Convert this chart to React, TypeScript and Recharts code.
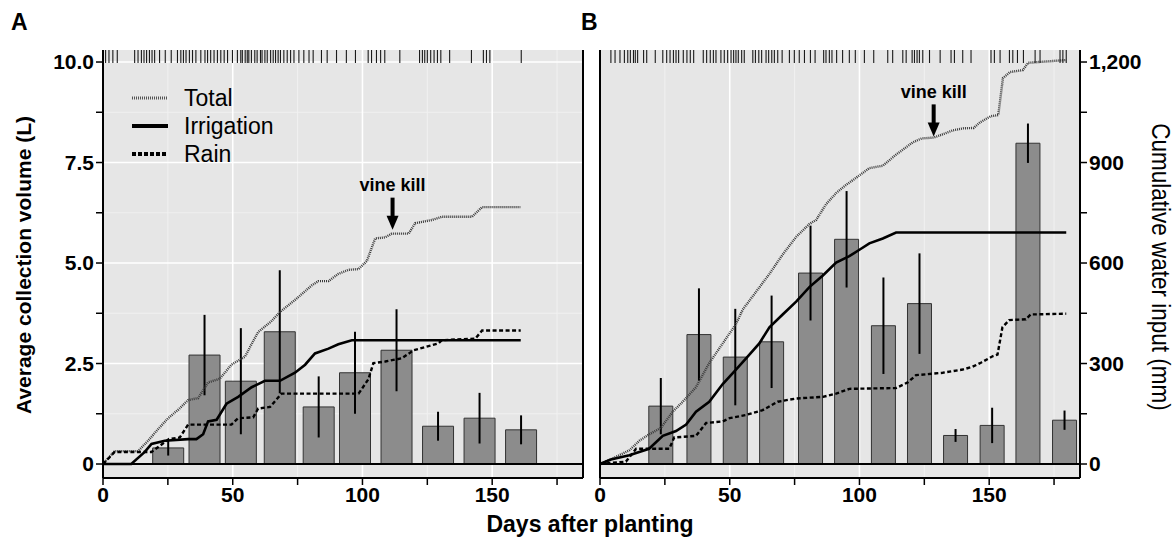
import React from 'react';
import {
  ComposedChart, Bar, Line, Scatter, XAxis, YAxis, CartesianGrid,
  ReferenceLine, ReferenceDot, ErrorBar, Legend,
} from 'recharts';

// Lecture du graphique de référence : deux panneaux (A, B), barres = volume moyen
// collecté (L), lignes = apport d'eau cumulé (axe secondaire : 1 L <-> 120 mm).

const FONT = "'Liberation Sans', Arial, Helvetica, sans-serif";

// ---- axes ----
const X_MAX = 185;
const Y_MIN = -0.348;
const Y_MAX = 10.299;
const MM_PER_L = 120;
const xMajor = [0, 50, 100, 150];
const xMinor = [25, 75, 125, 175];
const xTicks = [0, 25, 50, 75, 100, 125, 150, 175];
const yMajor = [0, 2.5, 5, 7.5, 10];
const yMinor = [1.25, 3.75, 6.25, 8.75];
const yTicks = [0, 1.25, 2.5, 3.75, 5, 6.25, 7.5, 8.75, 10];
const mmTicks = [0, 150, 300, 450, 600, 750, 900, 1050, 1200];

// ---- panneau A ----
const barDaysA = [25, 39, 53, 68, 83, 97, 113, 129, 145, 161];
const barMeanA = [0.4, 2.71, 2.06, 3.29, 1.42, 2.27, 2.83, 0.94, 1.14, 0.85];
const barErrA = [0.19, 1.0, 1.32, 1.53, 0.76, 1.02, 1.02, 0.36, 0.63, 0.36];

const totalA: [number, number][] = [
  [0, 0], [4.5, 0.32], [13.5, 0.32], [17.4, 0.58], [21, 0.85], [25.1, 1.14], [29, 1.35],
  [32.8, 1.59], [36.7, 1.64], [40.5, 2.03], [45, 2.12], [49.5, 2.47], [54.7, 2.67],
  [57, 2.95], [59.8, 3.28], [65, 3.56], [68.2, 3.78], [74, 4.08], [80.4, 4.44], [83, 4.55],
  [86.9, 4.55], [90.7, 4.73], [94.6, 4.83], [98.5, 4.85], [101.7, 5.05], [104.9, 5.61],
  [108.8, 5.64], [111.3, 5.73], [117.8, 5.73], [120.3, 5.99], [126.8, 6.07], [130.6, 6.15],
  [142.2, 6.15], [146.1, 6.39], [161, 6.39],
];
const irrigationA: [number, number][] = [
  [0, 0], [10.9, 0], [16.1, 0.3], [18.7, 0.5], [23.8, 0.58], [32.8, 0.62], [36, 0.62],
  [38.6, 0.74], [40.5, 1.06], [43.8, 1.1], [47.6, 1.5], [52.1, 1.67], [57.3, 1.91],
  [62.4, 2.07], [68.2, 2.07], [74, 2.27], [77.9, 2.47], [81.7, 2.75], [86.9, 2.87],
  [90.7, 2.98], [95.9, 3.08], [161, 3.08],
];
const rainA: [number, number][] = [
  [0, 0], [4.5, 0.3], [18.7, 0.3], [25.4, 0.62], [29.6, 0.66], [32.8, 0.98], [49.5, 0.98],
  [52.1, 1.14], [57.9, 1.16], [59.8, 1.38], [64.4, 1.42], [68.8, 1.75], [98.5, 1.75],
  [102.3, 2.11], [104.2, 2.51], [108.8, 2.55], [115.2, 2.63], [119.7, 2.83], [129.3, 3.0],
  [130.6, 3.08], [143.5, 3.12], [146.1, 3.32], [161, 3.32],
];
const rugA = [
  1, 2.3, 3.8, 5.5, 12.2, 13.5, 14.8, 15.8, 16.8, 17.9, 18.9, 19.9, 21.8, 24, 26.3, 28.7,
  30, 31, 32, 33.3, 34.5, 35.8, 37.7, 39.3, 40.3, 41.5, 42.8, 44.1, 45.4, 46.7, 48, 49.9,
  51.8, 53.1, 53.7, 54.8, 55.6, 56.2, 57.2, 58.5, 59.4, 60.7, 61.3, 62.4, 63.3, 64.6, 65.6,
  66.5, 67.5, 68.4, 69.7, 71, 72.3, 73.6, 75.5, 77.4, 79.4, 81, 84.2, 86.4, 90, 93.8, 97.3,
  102.2, 103.5, 105.4, 107, 108.6, 114.4, 122, 123.1, 124, 125, 126.3, 127.6, 128.9, 130.2,
  133.6, 142, 146.6, 147.8, 149.1, 161.2,
];
const vineKillA: [number, number] = [111.6, 5.83];

// ---- panneau B ----
const barDaysB = [23.4, 38.1, 52.1, 66.1, 81.1, 95, 109.2, 123.1, 137, 151.1, 164.9, 179];
const barMeanB = [1.44, 3.22, 2.66, 3.04, 4.75, 5.59, 3.44, 3.99, 0.71, 0.96, 7.98, 1.09];
const barErrB = [0.7, 1.15, 1.2, 1.15, 1.18, 1.2, 1.2, 1.25, 0.16, 0.44, 0.49, 0.24];

const totalB: [number, number][] = [
  [0, 0], [4.9, 0.14], [11.3, 0.34], [15.2, 0.58], [19, 0.74], [23.5, 0.9], [28, 1.3],
  [31.9, 1.55], [37, 1.91], [42.1, 2.51], [47.3, 3.0], [52.4, 3.48], [55, 3.84], [60.1, 4.28],
  [65.3, 4.73], [70.4, 5.21], [75.6, 5.65], [80.7, 5.97], [83.3, 6.07], [87.1, 6.46],
  [91, 6.74], [94.8, 6.94], [100, 7.18], [103.8, 7.36], [109, 7.42], [114, 7.69],
  [120.5, 8.0], [124, 8.1], [128.6, 8.12], [132, 8.2], [136, 8.3], [140, 8.35], [144, 8.36],
  [146.5, 8.5], [150.5, 8.65], [153.5, 8.68], [155.3, 9.6], [158, 9.75], [163, 9.8],
  [165, 9.98], [179.7, 10.05],
];
const irrigationB: [number, number][] = [
  [0, 0], [4.2, 0.11], [11.3, 0.22], [18.9, 0.38], [24.2, 0.7], [29.3, 0.82], [33.2, 0.98],
  [37, 1.3], [42.1, 1.55], [47.3, 1.99], [52.4, 2.35], [56.3, 2.63], [61.4, 3.0], [65.3, 3.4],
  [70.4, 3.72], [75.6, 4.04], [80.7, 4.4], [85.9, 4.69], [91, 5.01], [96.1, 5.17], [100, 5.33],
  [103.8, 5.49], [109, 5.61], [114.1, 5.76], [179.7, 5.76],
];
const rainB: [number, number][] = [
  [0, 0], [10, 0.06], [13.9, 0.38], [26.7, 0.38], [28.6, 0.66], [37, 0.7], [40.9, 1.02],
  [47.3, 1.06], [49.9, 1.14], [56.3, 1.22], [62.7, 1.34], [68.5, 1.55], [75.6, 1.63],
  [85.9, 1.67], [91, 1.75], [96.1, 1.87], [114.1, 1.89], [118.6, 2.03], [121.8, 2.21],
  [132.1, 2.27], [139.8, 2.35], [143.6, 2.42], [146.8, 2.52], [151.3, 2.68], [153.2, 2.72],
  [155.1, 3.4], [157.7, 3.58], [164.1, 3.6], [166, 3.72], [179.7, 3.74],
];
const rugB = [
  4.2, 5.8, 7.7, 9.4, 10.7, 11.7, 12.9, 13.6, 14.5, 16.8, 18, 21.3, 24.2, 25.7, 27, 28.3,
  29.3, 30.3, 32.1, 33.5, 34.8, 36.1, 39.8, 41.1, 42.5, 43.7, 44.7, 46.6, 47.9, 49.2, 50.5,
  51.5, 52.4, 53.3, 54.6, 55.6, 58.9, 59.9, 61.2, 62.3, 64, 65, 66.2, 67.2, 68.5, 70.2, 73,
  74.9, 76.8, 78.8, 81.1, 82.9, 86.2, 87.1, 88.4, 89.4, 91.2, 93.5, 96.1, 98.4, 101.9, 105.5,
  110.9, 112.8, 116.7, 118, 120.3, 121.2, 122.2, 123.1, 124.4, 127, 131.1, 135.3, 136.6,
  139.8, 143, 150.7, 152, 154.2, 157.8, 159.1, 160.9, 163.2, 167.7, 169.6, 177.3, 178.4, 179.7,
];
const vineKillB: [number, number] = [128.6, 8.15];

// ---- styles des séries ----
const TOTAL_STYLE = { stroke: '#3a3a3a', strokeWidth: 2.4, strokeDasharray: '1 1' };
const IRR_STYLE = { stroke: '#000', strokeWidth: 2.6 };
const RAIN_STYLE = { stroke: '#000', strokeWidth: 2.4, strokeDasharray: '4 2.5' };

const toRows = (pts: [number, number][]) => pts.map(([day, v]) => ({ day, v }));
const toBars = (days: number[], mean: number[], err: number[]) =>
  days.map((day, i) => ({ day, mean: mean[i], err: err[i] }));

const fmtL = (v: number) => (v === 0 ? '0' : v % 2.5 === 0 ? v.toFixed(1) : '');
const fmtMm = (v: number) => (v % 300 === 0 ? v.toLocaleString('en-US') : '');
const fmtX = (v: number) => (v % 50 === 0 ? String(v) : '');

const tickFont = { fill: '#000', fontSize: 21, fontWeight: 700, fontFamily: FONT };
const tickLineStyle = { stroke: '#000', strokeWidth: 1.5 };
const axisLineStyle = { stroke: '#000', strokeWidth: 2 };

// eslint-disable-next-line @typescript-eslint/no-explicit-any
const RugTick = (p: any) => (
  <line x1={p.cx} x2={p.cx} y1={p.cy} y2={p.cy + 13} stroke="#1a1a1a" strokeWidth={1.1} />
);

// eslint-disable-next-line @typescript-eslint/no-explicit-any
const VineKill = (p: any) => {
  const { cx, cy } = p;
  return (
    <g>
      <text x={cx} y={cy - 38.5} textAnchor="middle" fontSize={18} fontWeight={700}
        fontFamily={FONT} fill="#000">vine kill</text>
      <rect x={cx - 2} y={cy - 32} width={4} height={19} fill="#000" />
      <path d={`M${cx - 6},${cy - 14} L${cx + 6},${cy - 14} L${cx},${cy} Z`} fill="#000" />
    </g>
  );
};

const legendItems = [
  { label: 'Total', style: { stroke: '#555', strokeWidth: 3, strokeDasharray: '1 1' } },
  { label: 'Irrigation', style: { stroke: '#000', strokeWidth: 4 } },
  { label: 'Rain', style: { stroke: '#000', strokeWidth: 4, strokeDasharray: '4 2' } },
];

const LegendBox = () => (
  <div style={{ fontFamily: FONT, fontSize: 23, color: '#000' }}>
    {legendItems.map((it) => (
      <div key={it.label} style={{ display: 'flex', alignItems: 'center', height: 28 }}>
        <svg width={36} height={10} style={{ display: 'block' }}>
          <line x1={0} y1={5} x2={36} y2={5} {...it.style} />
        </svg>
        <span style={{ marginLeft: 16, lineHeight: '28px' }}>{it.label}</span>
      </div>
    ))}
  </div>
);

type PanelProps = {
  side: 'A' | 'B';
  bars: { day: number; mean: number; err: number }[];
  barSize: number;
  total: [number, number][];
  irrigation: [number, number][];
  rain: [number, number][];
  rug: number[];
  vineKill: [number, number];
};

// Les barres sont seules sur l'axe x du bas (id 0), sinon Recharts calcule la
// largeur de bande sur l'écart minimal entre tous les points (rug inclus).
// Les lignes, le rug et l'annotation vont sur l'axe du haut (même domaine).
const Panel: React.FC<PanelProps> = ({ side, bars, barSize, total, irrigation, rain, rug, vineKill }) => {
  const isA = side === 'A';
  const rugRows = rug.map((day) => ({ day, y: Y_MAX }));
  return (
    <ComposedChart
      width={isA ? 600 : 636}
      height={538}
      data={bars}
      margin={isA ? { top: 50, right: 7, bottom: 0, left: 43 } : { top: 50, right: 26, bottom: 0, left: 50 }}
    >
      <CartesianGrid yAxisId="l" horizontalValues={yMinor} verticalValues={xMinor}
        stroke="#f1f1f1" strokeWidth={1} fill="#e6e6e6" fillOpacity={1} />
      <CartesianGrid yAxisId="l" horizontalValues={yMajor} verticalValues={xMajor}
        stroke="#ffffff" strokeWidth={1.6} />
      <XAxis type="number" dataKey="day" domain={[0, X_MAX]} allowDataOverflow
        ticks={xTicks} interval={0} tickFormatter={fmtX}
        height={60} tickSize={7} tick={tickFont} tickLine={tickLineStyle} axisLine={axisLineStyle} />
      <XAxis xAxisId="top" orientation="top" type="number" dataKey="day" domain={[0, X_MAX]}
        allowDataOverflow height={0} tick={false} tickLine={false} axisLine={axisLineStyle} />
      <YAxis yAxisId="l" type="number" domain={[Y_MIN, Y_MAX]} allowDataOverflow
        ticks={yTicks} interval={0} tickFormatter={fmtL} width={isA ? 60 : 10} tickSize={7}
        tick={isA ? tickFont : false} tickLine={tickLineStyle} axisLine={axisLineStyle} />
      {isA ? (
        <YAxis yAxisId="r" orientation="right" type="number" domain={[Y_MIN, Y_MAX]} allowDataOverflow
          ticks={yTicks} interval={0} width={10} tickSize={7} tick={false}
          tickLine={tickLineStyle} axisLine={axisLineStyle} />
      ) : (
        <YAxis yAxisId="r" orientation="right" type="number"
          domain={[Y_MIN * MM_PER_L, Y_MAX * MM_PER_L]} allowDataOverflow
          ticks={mmTicks} interval={0} tickFormatter={fmtMm} width={70} tickSize={7} tick={tickFont}
          tickLine={tickLineStyle} axisLine={axisLineStyle} />
      )}
      <Bar yAxisId="l" dataKey="mean" barSize={barSize} fill="#8c8c8c" stroke="#333"
        strokeWidth={1} isAnimationActive={false}>
        <ErrorBar dataKey="err" width={0} stroke="#000" strokeWidth={2} direction="y" />
      </Bar>
      <Line xAxisId="top" yAxisId="l" data={toRows(total)} dataKey="v" type="linear" dot={false}
        activeDot={false} isAnimationActive={false} {...TOTAL_STYLE} />
      <Line xAxisId="top" yAxisId="l" data={toRows(irrigation)} dataKey="v" type="linear" dot={false}
        activeDot={false} isAnimationActive={false} {...IRR_STYLE} />
      <Line xAxisId="top" yAxisId="l" data={toRows(rain)} dataKey="v" type="linear" dot={false}
        activeDot={false} isAnimationActive={false} {...RAIN_STYLE} />
      <ReferenceLine yAxisId="l" y={0} stroke="#000" strokeWidth={2} />
      <Scatter xAxisId="top" yAxisId="l" data={rugRows} dataKey="y" shape={RugTick} isAnimationActive={false} />
      <ReferenceDot xAxisId="top" yAxisId="l" x={vineKill[0]} y={vineKill[1]} shape={VineKill} />
      {isA && (
        <Legend layout="vertical" align="center" verticalAlign="middle"
          wrapperStyle={{ left: 132, top: 84, width: 220, height: 84 }}
          content={() => <LegendBox />} />
      )}
    </ComposedChart>
  );
};

export default function App() {
  return (
    <div style={{ position: 'absolute', left: 0, top: 0, width: 1176, height: 538, background: '#fff', overflow: 'hidden' }}>
      <div style={{ position: 'absolute', left: 0, top: 0 }}>
        <Panel side="A" bars={toBars(barDaysA, barMeanA, barErrA)} barSize={31}
          total={totalA} irrigation={irrigationA} rain={rainA} rug={rugA} vineKill={vineKillA} />
      </div>
      <div style={{ position: 'absolute', left: 540, top: 0 }}>
        <Panel side="B" bars={toBars(barDaysB, barMeanB, barErrB)} barSize={24}
          total={totalB} irrigation={irrigationB} rain={rainB} rug={rugB} vineKill={vineKillB} />
      </div>
      <svg width={1176} height={538} style={{ position: 'absolute', left: 0, top: 0, pointerEvents: 'none' }}>
        <g fontFamily={FONT} fill="#000">
          <text x={11} y={30} fontSize={23} fontWeight={700}>A</text>
          <text x={581} y={30} fontSize={23} fontWeight={700}>B</text>
          <text x={590} y={531.5} textAnchor="middle" fontSize={23} fontWeight={700}>Days after planting</text>
          <text transform="translate(30.5,265) rotate(-90)" textAnchor="middle" fontSize={21} fontWeight={700}>
            Average collection volume (L)
          </text>
          <text transform="translate(1152,267) rotate(90) scale(0.9,1)" textAnchor="middle" fontSize={25}>
            Cumulative water input (mm)
          </text>
        </g>
      </svg>
    </div>
  );
}
